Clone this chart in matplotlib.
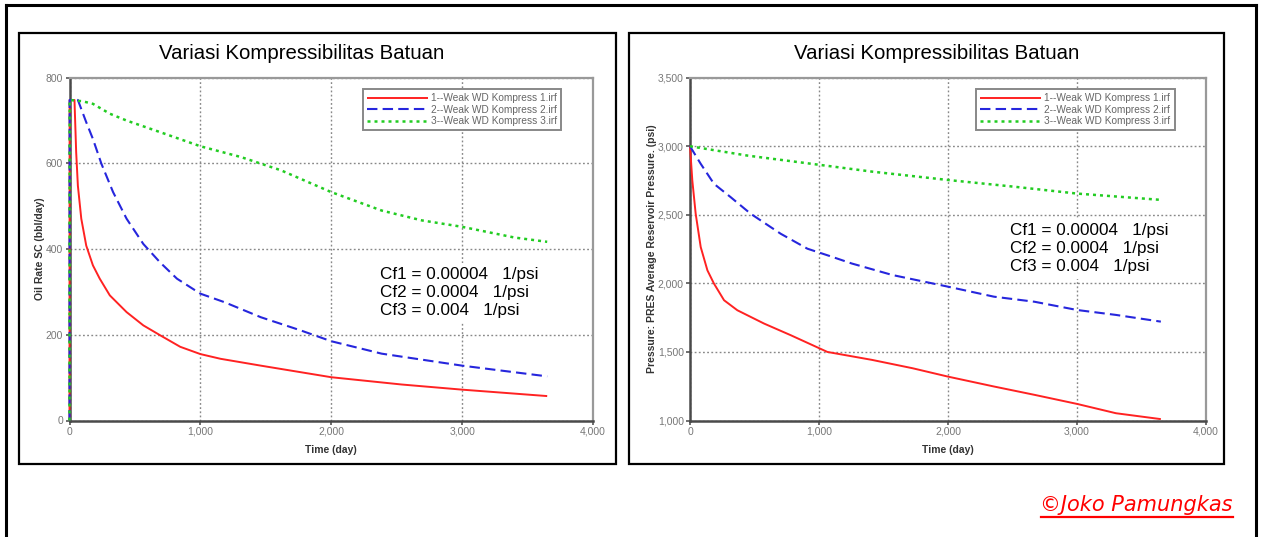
import matplotlib
matplotlib.use("Agg")
import matplotlib.pyplot as plt
from matplotlib.ticker import FuncFormatter, FixedLocator
from matplotlib.lines import Line2D
from matplotlib.patches import Rectangle

# ---- data -----------------------------------------------------------------
series_labels = ["1--Weak WD Kompress 1.irf",
                 "2--Weak WD Kompress 2.irf",
                 "3--Weak WD Kompress 3.irf"]

# Oil rate SC (bbl/day) vs time (day)
rate_t1 = [0, 1, 38, 51, 64, 90, 128, 179, 231, 308, 436, 564, 692, 846, 1000,
           1154, 1462, 2000, 2538, 3000, 3650]
rate_q1 = [0, 748, 748, 626, 548, 471, 408, 362, 331, 292, 253, 222, 199, 172, 155,
           144, 128, 101, 84, 72, 57]
rate_t2 = [0, 1, 64, 128, 179, 244, 333, 436, 564, 692, 821, 1000, 1185, 1462,
           1769, 2000, 2385, 3000, 3650]
rate_q2 = [0, 748, 748, 696, 657, 599, 533, 471, 412, 369, 331, 296, 276, 241,
           210, 185, 156, 128, 103]
rate_t3 = [0, 1, 100, 179, 308, 436, 692, 1000, 1308, 1615, 2000, 2385, 2692,
           3000, 3400, 3650]
rate_q3 = [0, 748, 745, 739, 716, 700, 673, 640, 615, 584, 533, 490, 467,
           452, 427, 417]

# Average reservoir pressure (psi) vs time (day)
pres_t1 = [0, 18, 44, 83, 135, 186, 264, 367, 574, 781, 1065, 1411, 1726, 2000,
           2356, 2671, 3000, 3302, 3650]
pres_p1 = [3000, 2750, 2508, 2265, 2095, 1998, 1877, 1804, 1707, 1622, 1500, 1442,
           1381, 1320, 1248, 1187, 1121, 1053, 1010]
pres_t2 = [0, 83, 186, 315, 470, 703, 910, 1091, 1254, 1569, 2000, 2356, 2671,
           3000, 3302, 3650]
pres_p2 = [3000, 2872, 2726, 2629, 2508, 2362, 2253, 2197, 2145, 2061, 1976, 1903,
           1866, 1806, 1770, 1721]
pres_t3 = [0, 445, 1000, 1411, 2000, 2513, 3000, 3650]
pres_p3 = [3000, 2932, 2865, 2815, 2754, 2705, 2655, 2609]

time_ticks = [0, 1000, 2000, 3000, 4000]
rate_ticks = [0, 200, 400, 600, 800]
pres_ticks = [1000, 1500, 2000, 2500, 3000, 3500]

chart_title = "Variasi Kompressibilitas Batuan"
cf_note = "Cf1 = 0.00004   1/psi\nCf2 = 0.0004   1/psi\nCf3 = 0.004   1/psi"
credit = "©Joko Pamungkas"

# ---- styling --------------------------------------------------------------
W, H, DPI = 1261, 537, 100
plt.rcParams["font.family"] = ["Liberation Sans", "DejaVu Sans"]

styles = [dict(color="#ff2222", ls="-", lw=1.4),
          dict(color="#2626dd", ls=(0, (5, 2.5)), lw=1.5),
          dict(color="#22cc22", ls=(0, (1.2, 1.6)), lw=1.8)]

fig = plt.figure(figsize=(W / DPI, H / DPI), dpi=DPI)


def fx(px):
    return px / W


def fy(py):
    return 1 - py / H


# outer frame (open at the bottom)
for xs, ys in [((6, 6), (5, H + 5)), ((6, 1255.5), (5, 5)), ((1255.5, 1255.5), (5, H + 5))]:
    fig.add_artist(Line2D([fx(v) for v in xs], [fy(v) for v in ys],
                          color="black", lw=2.2, transform=fig.transFigure))

# panel frames
for x0, x1 in [(19, 616), (629, 1224)]:
    fig.add_artist(Rectangle((fx(x0), fy(464)), fx(x1 - x0), (464 - 33) / H,
                             fill=False, ec="black", lw=1.6,
                             transform=fig.transFigure))

comma = FuncFormatter(lambda v, p: f"{v:,.0f}")


def make_panel(rect_px, xs, ys, yticks, ylim, ylabel, title_x, note_xy):
    l, t, r, b = rect_px
    ax = fig.add_axes([fx(l), fy(b), fx(r - l), (b - t) / H])
    for x, y, st, lab in zip(xs, ys, styles, series_labels):
        ax.plot(x, y, label=lab, solid_capstyle="butt", zorder=3, clip_on=False,
                **st)
    ax.set_xlim(0, 4000)
    ax.set_ylim(*ylim)
    ax.xaxis.set_major_locator(FixedLocator(time_ticks))
    ax.yaxis.set_major_locator(FixedLocator(yticks))
    ax.xaxis.set_major_formatter(comma)
    ax.yaxis.set_major_formatter(comma)
    ax.tick_params(length=3, width=1.2, color="#555", labelsize=7.5,
                   labelcolor="#777", pad=1.5)
    ax.grid(True, ls=(0, (1.3, 1.7)), color="#888", lw=1.0)
    ax.set_axisbelow(True)
    for s in ("left", "bottom"):
        ax.spines[s].set_color("#4a4a4a")
        ax.spines[s].set_linewidth(1.8)
    for s in ("top", "right"):
        ax.spines[s].set_color("#999")
        ax.spines[s].set_linewidth(1.6)
    ax.set_xlabel("Time (day)", fontsize=7.5, fontweight="bold", color="#333",
                  labelpad=6)
    ax.set_ylabel(ylabel, fontsize=7.5, fontweight="bold", color="#333",
                  labelpad=0.5)
    leg = ax.legend(loc="upper right", bbox_to_anchor=(0.939, 0.967),
                    borderaxespad=0, fontsize=7.3, frameon=True, fancybox=False,
                    edgecolor="#888", framealpha=1, handlelength=6.0,
                    handletextpad=0.3, labelspacing=0.15, borderpad=0.4)
    leg.get_frame().set_linewidth(1.4)
    for txt in leg.get_texts():
        txt.set_color("#666")
    fig.text(fx(title_x), fy(53), chart_title, ha="center", va="center",
             fontsize=14.7)
    fig.text(fx(note_xy[0]), fy(note_xy[1]), cf_note, ha="left", va="top",
             fontsize=12.3, linespacing=1.27,
             bbox=dict(fc="white", ec="none", pad=3), zorder=5)
    return ax


ax1 = make_panel((69.5, 77.7, 593, 420.5),
                 [rate_t1, rate_t2, rate_t3], [rate_q1, rate_q2, rate_q3],
                 rate_ticks, (0, 800), "Oil Rate SC (bbl/day)", 302, (380, 267))
ax2 = make_panel((690, 77.7, 1206, 420.5),
                 [pres_t1, pres_t2, pres_t3], [pres_p1, pres_p2, pres_p3],
                 pres_ticks, (1000, 3500),
                 "Pressure: PRES Average Reservoir Pressure. (psi)", 937, (1010, 223))

# credit line, underlined
cred = fig.text(fx(1233), fy(511), credit, ha="right", va="baseline",
                fontsize=16, color="red", style="italic",
                family=["DejaVu Sans"])
fig.canvas.draw()
bb = cred.get_window_extent()
scale = (1233 - 1040) / bb.width
cred.set_fontsize(16 * scale)
fig.canvas.draw()
bb = cred.get_window_extent()
fig.add_artist(Line2D([bb.x0 / W, bb.x1 / W], [fy(517), fy(517)], color="red",
                      lw=1.6, transform=fig.transFigure))

fig.savefig("out.png", dpi=DPI)
